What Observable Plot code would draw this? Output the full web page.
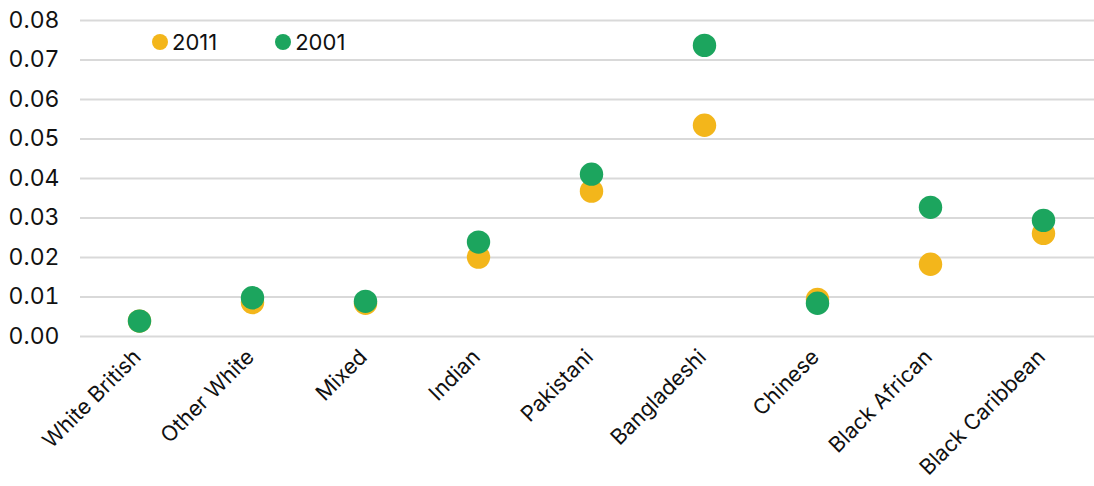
<!DOCTYPE html>
<html>
<head>
<meta charset="utf-8">
<script src="https://cdn.jsdelivr.net/npm/d3@7"></script>
<script src="https://cdn.jsdelivr.net/npm/@observablehq/plot@0.6"></script>
<style>
  html, body { margin: 0; padding: 0; background: #fff; }
  #wrap { position: relative; width: 1094px; height: 486px; font-family: Inter, "Noto Sans", sans-serif; }
  .legend { position: absolute; top: 29px; left: 152px; display: flex; gap: 0; font-size: 22px; color: #111; }
  .legend span.item { display: flex; align-items: center; margin-right: 58px; }
  .legend span.sw { width: 16px; height: 16px; border-radius: 50%; display: inline-block; margin-right: 4px; }
</style>
</head>
<body>
<div id="wrap"></div>
<script>
const categories = ["White British", "Other White", "Mixed", "Indian", "Pakistani", "Bangladeshi", "Chinese", "Black African", "Black Caribbean"];
const values2011 = [0.0039, 0.0086, 0.0084, 0.0201, 0.0368, 0.0535, 0.0094, 0.0183, 0.0261];
const values2001 = [0.0039, 0.0098, 0.0089, 0.0239, 0.0411, 0.0737, 0.0084, 0.0327, 0.0294];
const series = ["2011", "2001"];
const colors = ["#f3b61b", "#1ca55e"];
const yTicks = [0, 0.01, 0.02, 0.03, 0.04, 0.05, 0.06, 0.07, 0.08];

const data = [];
categories.forEach((c, i) => data.push({cat: c, year: "2011", v: values2011[i]}));
categories.forEach((c, i) => data.push({cat: c, year: "2001", v: values2001[i]}));

const chart = Plot.plot({
  width: 1094,
  height: 486,
  marginTop: 20,
  marginBottom: 150,
  marginLeft: 80,
  marginRight: 0,
  style: {fontFamily: "Inter, 'Noto Sans', sans-serif", fontSize: "22px", color: "#111", background: "#fff"},
  x: {type: "point", domain: categories, range: [137, 1045], padding: 0, label: null},
  y: {domain: [0, 0.08], label: null},
  color: {domain: series, range: colors},
  marks: [
    Plot.ruleY(yTicks, {stroke: "#d9d9d9", strokeWidth: 2}),
    Plot.axisY(yTicks, {tickFormat: d3.format(".2f"), tickSize: 0, tickPadding: 21, fontSize: 23, fill: "#111", label: null}),
    Plot.axisX({tickSize: 0, tickRotate: -45, tickPadding: 17, dx: -2, fontSize: 21.5, fill: "#111", label: null}),
    Plot.dot(data, {x: "cat", y: "v", fill: "year", r: 11.7})
  ]
});
const wrap = document.getElementById("wrap");
wrap.appendChild(chart);

const legend = document.createElement("div");
legend.className = "legend";
series.forEach((s, i) => {
  const it = document.createElement("span");
  it.className = "item";
  const sw = document.createElement("span");
  sw.className = "sw";
  sw.style.background = colors[i];
  it.appendChild(sw);
  it.appendChild(document.createTextNode(s));
  legend.appendChild(it);
});
wrap.appendChild(legend);
</script>
</body>
</html>
